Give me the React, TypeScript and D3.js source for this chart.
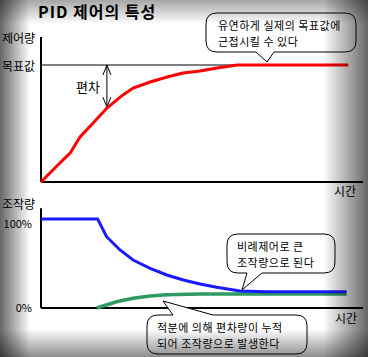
import React from "react";
import * as d3 from "d3";

const W = 368;
const H = 357;

// Control value (제어량), time 0..100, value in % of target
const redT = [0, 5.9, 9.1, 12.2, 16.3, 20.6, 25.6, 28.8, 34.1, 39.4, 44.4, 49.7, 55, 61.3, 96];
const redV = [0, 16.2, 24.8, 38.5, 50.4, 63.2, 74.4, 80.3, 85.5, 89.7, 93.2, 94.9, 97.4, 100, 100];

// Proportional manipulated value (blue)
const blueT = [0, 17.7, 20.5, 24.7, 28.8, 34.1, 39.3, 44.5, 49.7, 54.9, 62.2, 70.5, 95.5];
const blueV = [100, 100, 80.1, 65.2, 53.9, 44.6, 37.1, 31.5, 27, 23.3, 19.1, 18.3, 18.3];

// Integral manipulated value (green)
const greenT = [17.4, 23.6, 28.8, 34.1, 39.3, 49.7, 95.5];
const greenV = [0, 7, 10.9, 13.5, 15, 15.7, 15.7];

const targetValue = 100;
const deviationT = 20.6;
const deviationV = 64;

const title = "PID 제어의 특성";
const topYLabel = "제어량";
const targetLabel = "목표값";
const bottomYLabel = "조작량";
const tickLabels = ["100%", "0%"];
const timeLabel = "시간";
const deviationLabel = "편차";
const callout1 = ["유연하게 실제의 목표값에", "근접시킬 수 있다"];
const callout2 = ["비례제어로 큰", "조작량으로 된다"];
const callout3 = ["적분에 의해 편차량이 누적", "되어 조작량으로 발생한다"];

const FONT = "'Noto Sans CJK KR', 'Noto Sans', sans-serif";

function bubble(
  x0: number, y0: number, x1: number, y1: number, r: number,
  side: "top" | "bottom", ta: number, tb: number, tip: [number, number]
) {
  const p = d3.path();
  p.moveTo(x0 + r, y0);
  if (side === "top") {
    p.lineTo(ta, y0);
    p.lineTo(tip[0], tip[1]);
    p.lineTo(tb, y0);
  }
  p.lineTo(x1 - r, y0);
  p.quadraticCurveTo(x1, y0, x1, y0 + r);
  p.lineTo(x1, y1 - r);
  p.quadraticCurveTo(x1, y1, x1 - r, y1);
  if (side === "bottom") {
    p.lineTo(tb, y1);
    p.lineTo(tip[0], tip[1]);
    p.lineTo(ta, y1);
  }
  p.lineTo(x0 + r, y1);
  p.quadraticCurveTo(x0, y1, x0, y1 - r);
  p.lineTo(x0, y0 + r);
  p.quadraticCurveTo(x0, y0, x0 + r, y0);
  p.closePath();
  return p.toString();
}

export default function App() {
  const x = d3.scaleLinear().domain([0, 100]).range([41, 361]);
  const yTop = d3.scaleLinear().domain([0, 100]).range([182, 65]);
  const yBot = d3.scaleLinear().domain([0, 100]).range([308, 219]);

  const lineTop = d3.line<number>().x((_, i) => x(redT[i])).y((v) => yTop(v));
  const lineBlue = d3.line<number>().x((_, i) => x(blueT[i])).y((v) => yBot(v));
  const lineGreen = d3.line<number>().x((_, i) => x(greenT[i])).y((v) => yBot(v));

  const ax = x(deviationT);
  const ayTop = yTop(targetValue);
  const ayBot = yTop(deviationV);

  const txt = { fontFamily: FONT, fontSize: 12, fill: "#000" } as const;
  const ctxt = { ...txt, fontSize: 11, letterSpacing: 0.5 } as const;

  const twoLines = (lines: string[], x0: number, y0: number, gap: number) => (
    <text x={x0} y={y0} dominantBaseline="central" style={ctxt}>
      <tspan x={x0} y={y0}>{lines[0]}</tspan>
      <tspan x={x0} y={y0 + gap}>{lines[1]}</tspan>
    </text>
  );

  return (
    <svg width={W} height={H} style={{ position: "absolute", left: 0, top: 0 }}>
      <defs>
        <linearGradient id="gl" x1="0" x2="1" y1="0" y2="0">
          <stop offset="0" stopColor="#000" stopOpacity="0.6" />
          <stop offset="1" stopColor="#000" stopOpacity="0" />
        </linearGradient>
        <linearGradient id="gr" x1="1" x2="0" y1="0" y2="0">
          <stop offset="0" stopColor="#000" stopOpacity="0.6" />
          <stop offset="1" stopColor="#000" stopOpacity="0" />
        </linearGradient>
        <linearGradient id="gt" x1="0" x2="0" y1="0" y2="1">
          <stop offset="0" stopColor="#000" stopOpacity="0.35" />
          <stop offset="1" stopColor="#000" stopOpacity="0" />
        </linearGradient>
        <linearGradient id="gb" x1="0" x2="0" y1="1" y2="0">
          <stop offset="0" stopColor="#000" stopOpacity="0.45" />
          <stop offset="1" stopColor="#000" stopOpacity="0" />
        </linearGradient>
      </defs>
      <rect x={0} y={0} width={W} height={H} fill="#fff" />

      {/* title */}
      <text x={38} y={18} style={{ ...txt, fontSize: 16, fontWeight: "bold", letterSpacing: 1 }}>{title}</text>

      {/* top chart axes */}
      <line x1={41} y1={yTop(124)} x2={41} y2={yTop(0)} stroke="#000" strokeWidth={2} />
      <line x1={41} y1={yTop(0)} x2={363} y2={yTop(0)} stroke="#000" strokeWidth={2} />
      <line x1={41} y1={yTop(targetValue)} x2={x(96)} y2={yTop(targetValue)} stroke="#000" strokeWidth={1} />
      <text x={2} y={37} dominantBaseline="central" style={txt}>{topYLabel}</text>
      <text x={2} y={65} dominantBaseline="central" style={txt}>{targetLabel}</text>
      <text x={334} y={190} dominantBaseline="central" style={txt}>{timeLabel}</text>

      {/* deviation arrow */}
      <line x1={ax} y1={ayTop} x2={ax} y2={ayBot} stroke="#000" strokeWidth={1} />
      <polyline points={`${ax - 4},${ayTop + 10} ${ax},${ayTop} ${ax + 4},${ayTop + 10}`} fill="none" stroke="#000" strokeWidth={1} />
      <polyline points={`${ax - 4},${ayBot - 10} ${ax},${ayBot} ${ax + 4},${ayBot - 10}`} fill="none" stroke="#000" strokeWidth={1} />
      <text x={76} y={86} dominantBaseline="central" style={{ ...txt, fontSize: 13 }}>{deviationLabel}</text>

      <path d={lineTop(redV) || ""} fill="none" stroke="#ff0000" strokeWidth={3} />

      {/* bottom chart axes */}
      <line x1={41} y1={yBot(112)} x2={41} y2={yBot(0)} stroke="#000" strokeWidth={2} />
      <line x1={41} y1={yBot(0)} x2={363} y2={yBot(0)} stroke="#000" strokeWidth={2} />
      <text x={2} y={203} dominantBaseline="central" style={txt}>{bottomYLabel}</text>
      <text x={32} y={223} textAnchor="end" dominantBaseline="central" style={{ ...txt, fontSize: 11 }}>{tickLabels[0]}</text>
      <text x={32} y={307} textAnchor="end" dominantBaseline="central" style={{ ...txt, fontSize: 11 }}>{tickLabels[1]}</text>
      <text x={335} y={317} dominantBaseline="central" style={txt}>{timeLabel}</text>

      <path d={lineGreen(greenV) || ""} fill="none" stroke="#2e9960" strokeWidth={3.5} />
      <path d={lineBlue(blueV) || ""} fill="none" stroke="#1a1aff" strokeWidth={3} />

      {/* callouts */}
      <path d={bubble(206, 13, 356, 52, 11, "bottom", 256, 274, [267, 62])} fill="#fff" stroke="#000" strokeWidth={1} />
      {twoLines(callout1, 218, 24.5, 16)}

      <path d={bubble(227, 234, 335, 273, 11, "bottom", 247, 262, [242, 290])} fill="#fff" stroke="#000" strokeWidth={1} />
      {twoLines(callout2, 237, 245.5, 16)}

      <path d={bubble(147, 315, 307, 354, 11, "top", 173, 213, [163, 301])} fill="#fff" stroke="#000" strokeWidth={1} />
      {twoLines(callout3, 157, 326.5, 16)}

      {/* vignette */}
      <rect x={0} y={0} width={30} height={H} fill="url(#gl)" />
      <rect x={W - 45} y={0} width={45} height={H} fill="url(#gr)" />
      <rect x={0} y={0} width={W} height={24} fill="url(#gt)" />
      <rect x={0} y={H - 28} width={W} height={28} fill="url(#gb)" />
    </svg>
  );
}
